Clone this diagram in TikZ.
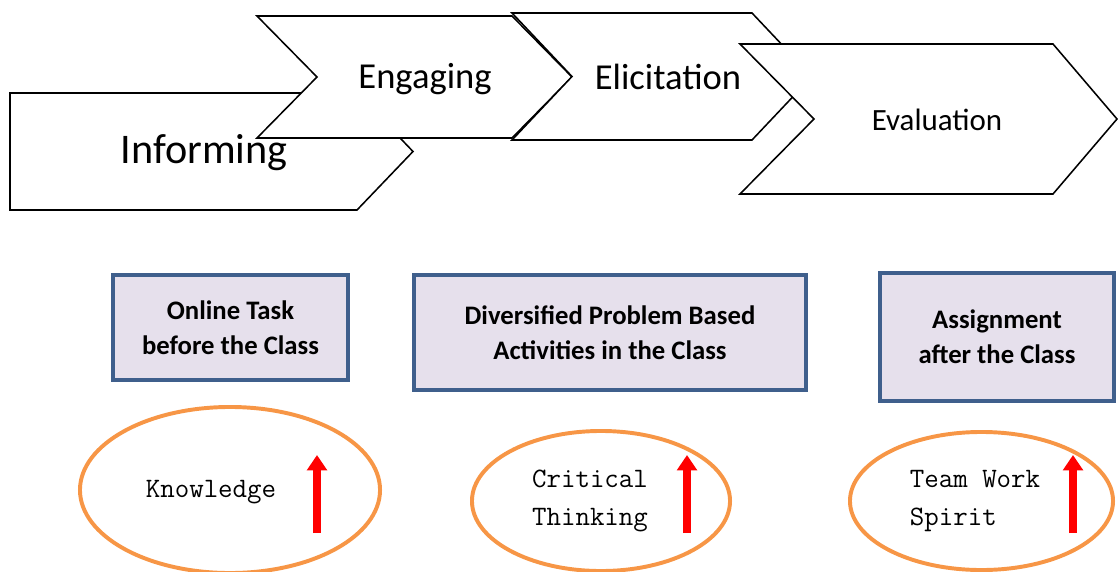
\documentclass[tikz,border=0pt]{standalone}
\usepackage{fontspec}
\setmainfont{Carlito}
\usetikzlibrary{arrows.meta,shapes.geometric}
\definecolor{boxfill}{HTML}{E6E0EC}
\definecolor{boxline}{HTML}{3F5F8C}
\definecolor{ringline}{HTML}{F79646}
\tikzset{
	stage/.style={draw=black,fill=white,line width=1.1pt,line join=miter},
	stagetext/.style={inner sep=0pt,font=\fontsize{#1}{#1}\selectfont},
	phase/.style={draw=boxline,fill=boxfill,line width=2.8pt,inner sep=0pt,align=center,font=\bfseries\fontsize{19}{25}\selectfont},
	ring/.style={ellipse,draw=ringline,line width=2.8pt,inner sep=0pt},
	ringtext/.style={inner sep=0pt,align=left,font=\ttfamily\fontsize{20}{27.5}\selectfont},
	gain/.style={red,line width=5.7pt,-{Triangle[width=14pt,length=11pt]}}
}
\begin{document}
\begin{tikzpicture}[x=0.025cm,y=-0.025cm]
	\useasboundingbox (0,0) rectangle (1118,572);
	% the four stages
	\draw[stage] (10,93) -- (357,93) -- (413,151.5) -- (357,210) -- (10,210) -- cycle;
	\node[stagetext=30] (inform) at (204,153) {Informing};
	\draw[stage] (257,16) -- (512,16) -- (572,77) -- (512,138) -- (257,138) -- (317,77) -- cycle;
	\node[stagetext=26] (engage) at (425,79) {Engaging};
	\draw[stage] (512,13) -- (752,13) -- (812,76.5) -- (752,140) -- (512,140) -- (572,76.5) -- cycle;
	\node[stagetext=26] (elicit) at (668,77) {Elicitation};
	\draw[stage] (740,44) -- (1053,44) -- (1117,119) -- (1053,194) -- (740,194) -- (814,119) -- cycle;
	\node[stagetext=22] (evaluate) at (937,120) {Evaluation};
	% class phases
	\node[phase,minimum width=5.875cm,minimum height=2.625cm] (before) at (230.5,327.5) {Online Task\\before the Class};
	\node[phase,minimum width=9.8cm,minimum height=2.875cm] (during) at (610,332.5) {Diversified Problem Based\\Activities in the Class};
	\node[phase,minimum width=5.85cm,minimum height=3.2cm] (after) at (997,337) {Assignment\\after the Class};
	% outcomes
	\node[ring,minimum width=7.5cm,minimum height=4.15cm] (knowring) at (230,490) {};
	\node[ringtext] (know) at (211,492) {Knowledge};
	\coordinate (knowlow) at (317,533);
	\coordinate (knowtop) at (317,455);
	\draw[gain] (knowlow) -- (knowtop);
	\node[ring,minimum width=6.45cm,minimum height=3.5cm] (critring) at (601,501) {};
	\node[ringtext] (crit) at (590,501) {Critical\\Thinking};
	\coordinate (critlow) at (687,533);
	\coordinate (crittop) at (687,455);
	\draw[gain] (critlow) -- (crittop);
	\node[ring,minimum width=6.575cm,minimum height=3.45cm] (teamring) at (981.5,501) {};
	\node[ringtext] (team) at (975,501) {Team Work\\Spirit};
	\coordinate (teamlow) at (1073,533);
	\coordinate (teamtop) at (1073,455);
	\draw[gain] (teamlow) -- (teamtop);
\end{tikzpicture}
\end{document}
